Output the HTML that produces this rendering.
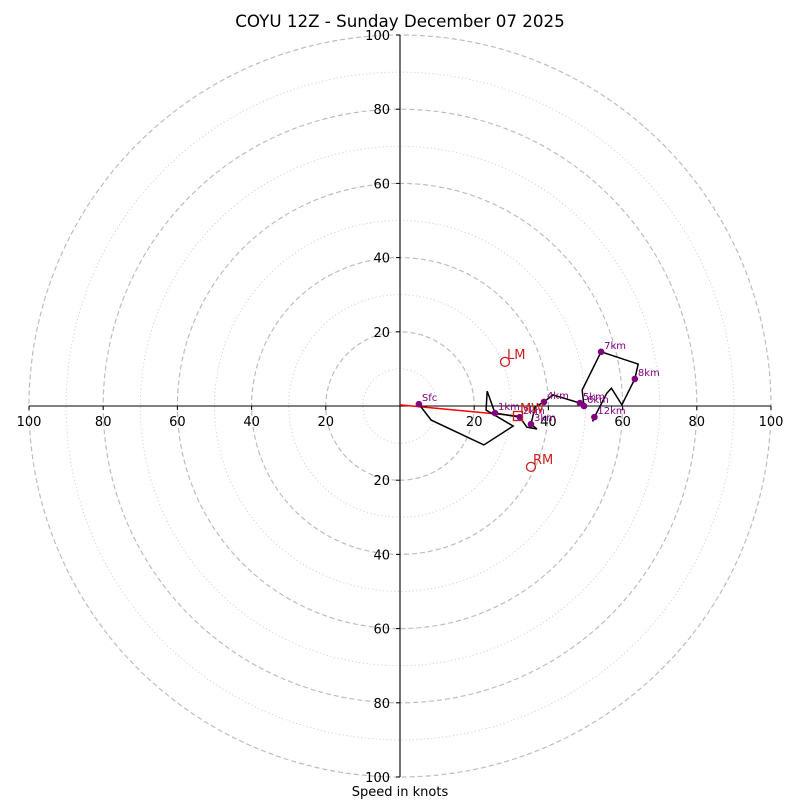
<!DOCTYPE html>
<html><head><meta charset="utf-8"><style>
html,body{margin:0;padding:0;background:#fff;}
svg{display:block;font-family:"DejaVu Sans","Liberation Sans",sans-serif;}
</style></head><body>
<svg id="c" width="800" height="800" viewBox="0 0 800 800"></svg>
<script>
// Data (knots: u east, v north)
const profileU = [5.1, 8.4, 22.6, 30.5, 23.2, 23.5, 25.6, 32.3, 34.2, 36.9, 35.3, 36.4, 38.8, 41.2, 48.5, 49.6, 49.1, 54.2, 64.2, 63.3, 59.8, 57.0, 55.7, 52.4, 51.9];
const profileV = [0.5, -3.8, -10.5, -5.4, -1.1, 4.0, -1.9, -3.0, -5.7, -6.2, -4.9, -0.3, 1.1, 3.0, 0.8, 0, 4.3, 14.6, 11.3, 7.3, 0.3, 4.8, 3.4, -3.0, -4.2];
const markerLabels = ["Sfc", "1km", "2km", "3km", "4km", "5km", "6km", "7km", "8km", "12km"];
const markerU = [5.1, 25.6, 32.3, 35.3, 38.8, 48.5, 49.6, 54.2, 63.3, 52.4];
const markerV = [0.5, -1.9, -3.0, -4.9, 1.1, 0.8, 0, 14.6, 7.3, -3.0];
const stormNames = ["LM", "RM"];
const stormU = [28.3, 35.3];
const stormV = [11.9, -16.4];
const meanWindU = [31.8];
const meanWindV = [-2.7];
const ringValues = [10, 20, 30, 40, 50, 60, 70, 80, 90, 100];
const tickLabels = [20, 40, 60, 80, 100];

const NS = "http://www.w3.org/2000/svg";
const svg = document.getElementById("c");
const cx = 400, cy = 406, R = 371, MAX = 100;
const sx = u => cx + u / MAX * R;
const sy = v => cy - v / MAX * R;
const sr = r => r / MAX * R;
function mk(tag, attrs, parent) {
  const e = document.createElementNS(NS, tag);
  for (const k in attrs) e.setAttribute(k, attrs[k]);
  (parent || svg).appendChild(e);
  return e;
}
ringValues.forEach(r => {
  const e = mk("circle", {cx: cx, cy: cy, r: sr(r), fill: "none", stroke: r % 20 === 0 ? "#bdbdbd" : "#d3d3d3", "stroke-width": r % 20 === 0 ? 1.2 : 1, "stroke-dasharray": r % 20 === 0 ? "5,3" : "1.2,2.5"});
  
  
});
let ax = mk("line", {x1: sx(-100), y1: cy, x2: sx(100), y2: cy, stroke: "#000", "stroke-width": 1.1});


ax = mk("line", {x1: cx, y1: sy(100), x2: cx, y2: sy(-100), stroke: "#000", "stroke-width": 1.1});


tickLabels.forEach(t => {
  [-1, 1].forEach(s => {
    let tk = mk("line", {x1: sx(s * t), y1: cy, x2: sx(s * t), y2: cy + 4, stroke: "#000"});
    
    
    let tx = mk("text", {x: sx(s * t), y: cy + 20, "text-anchor": "middle", "font-size": 13});
    tx.textContent = t;
    
    
    tk = mk("line", {x1: cx - 4, y1: sy(s * t), x2: cx, y2: sy(s * t), stroke: "#000"});
    
    
    tx = mk("text", {x: cx - 10, y: sy(s * t) + 5, "text-anchor": "end", "font-size": 13});
    tx.textContent = t;
    
    
  });
});
let ml = mk("line", {x1: sx(0), y1: sy(0.3), x2: sx(meanWindU[0]), y2: sy(meanWindV[0]), stroke: "#ff0000", "stroke-width": 1.5});


let pts = profileU.map((u, i) => sx(u) + "," + sy(profileV[i])).join(" ");
let pl = mk("polyline", {points: pts, fill: "none", stroke: "#000", "stroke-width": 1.5});


markerLabels.forEach((l, i) => {
  const c = mk("circle", {cx: sx(markerU[i]), cy: sy(markerV[i]), r: 3.3, fill: "#800080"});
  
  
  const t = mk("text", {x: sx(markerU[i]) + 3, y: sy(markerV[i]) - 3, "font-size": 10, fill: "#800080"});
  t.textContent = l;
  
  
});
stormNames.forEach((n, i) => {
  const c = mk("circle", {cx: sx(stormU[i]), cy: sy(stormV[i]), r: 4.5, fill: "none", stroke: "#c81e1e", "stroke-width": 1.3});
  
  
  const t = mk("text", {x: sx(stormU[i]) + 2, y: sy(stormV[i]) - 3, "font-size": 13, fill: "#c81e1e"});
  t.textContent = n;
  
  
});
let mw = mk("rect", {x: sx(meanWindU[0]) - 4.5, y: sy(meanWindV[0]) - 4.5, width: 9, height: 9, fill: "none", stroke: "#c81e1e", "stroke-width": 1.3});


let mwt = mk("text", {x: sx(meanWindU[0]) + 2, y: sy(meanWindV[0]) - 3, "font-size": 13, fill: "#c81e1e"});
mwt.textContent = "MW";


let ti = mk("text", {x: 400, y: 27, "text-anchor": "middle", "font-size": 16.7});
ti.textContent = "COYU 12Z - Sunday December 07 2025";


let xl = mk("text", {x: 400, y: 796, "text-anchor": "middle", "font-size": 13});
xl.textContent = "Speed in knots";


</script>
</body></html>
